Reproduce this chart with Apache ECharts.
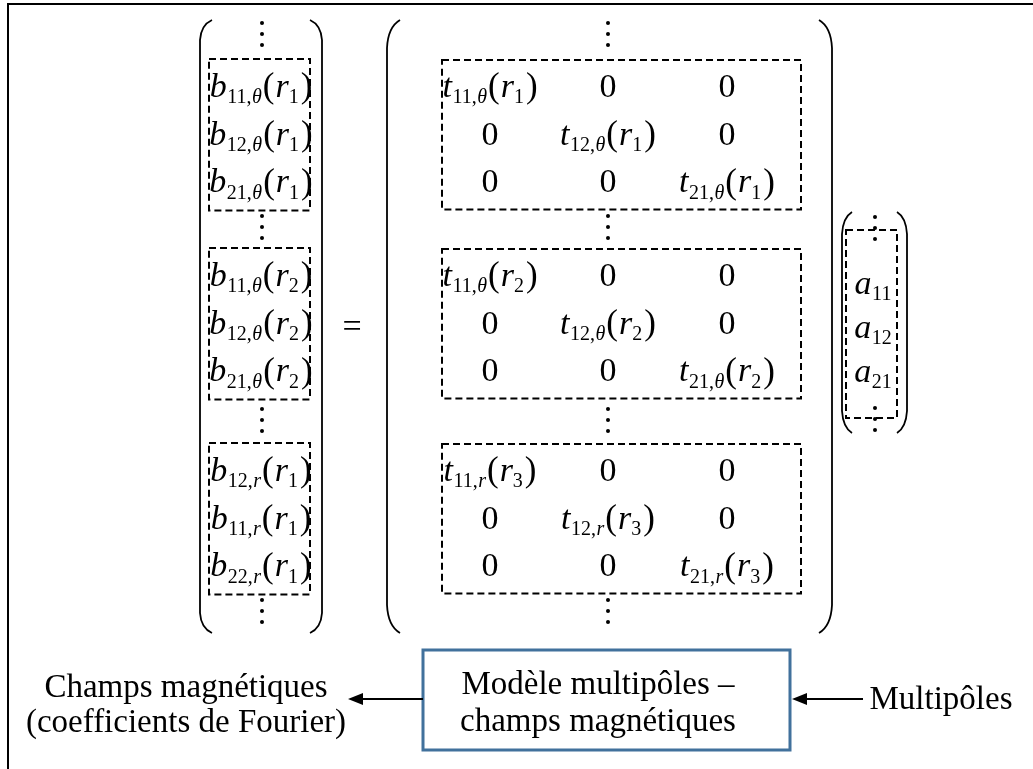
<!DOCTYPE html>
<html>
<head>
<meta charset="utf-8">
<script src="https://cdn.jsdelivr.net/npm/echarts@6/dist/echarts.min.js"></script>
<style>
html,body{margin:0;padding:0;background:#ffffff;}
#chart{width:1033px;height:769px;}
</style>
</head>
<body>
<div id="chart"></div>
<script>
// ---------------- data (content of the diagram) ----------------
const bSymbol = 'b';
const bSubscripts = ['11,θ','12,θ','21,θ','11,θ','12,θ','21,θ','12,r','11,r','22,r'];
const bRadii      = ['1','1','1','2','2','2','1','1','1'];
const tSymbol = 't';
const tSubscripts = ['11,θ','12,θ','21,θ','11,θ','12,θ','21,θ','11,r','12,r','21,r'];
const tRadii      = ['1','1','1','2','2','2','3','3','3'];
const zeroEntry = '0';
const aSymbol = 'a';
const aSubscripts = ['11','12','21'];
const radiusSymbol = 'r';
const equalsSign = '=';
const leftCaption  = ['Champs magnétiques','(coefficients de Fourier)'];
const boxCaption   = ['Modèle multipôles –','champs magnétiques'];
const rightCaption = ['Multipôles'];

// ---------------- layout / style constants ----------------
const FONT = "'Times New Roman','Liberation Serif','DejaVu Serif',serif";
const MAIN = 34, SUB = 20, SUBDY = 10, PAREN = 35, PDY = 0;
const CAP = 33;
const blockRowY = [88, 277, 472];
const ROWSTEP = 47.7;
const dotsY = [34, 227, 420, 611];
const bCenterX = 261;
const colX = [490, 608, 727];
const aCenterX = 873;
const aRowY = [285, 329, 373];
const aDotsY = [228, 419];

const mctx = document.createElement('canvas').getContext('2d');
function measure(t, size, italic) {
  mctx.font = (italic ? 'italic ' : '') + size + 'px ' + FONT;
  return mctx.measureText(t).width;
}
function rowY(i) { return blockRowY[Math.floor(i / 3)] + (i % 3) * ROWSTEP; }
function splitSub(s) {
  const k = s.lastIndexOf(',');
  return k < 0 ? [[s, false]] : [[s.slice(0, k + 1), false], [s.slice(k + 1), true]];
}
function pieces(sym, sub, rad) {
  const p = [{t: sym, s: MAIN, i: true, dy: 0}];
  splitSub(sub).forEach(([t, it]) => p.push({t: t, s: SUB, i: it, dy: SUBDY, pre: 0.5}));
  if (rad != null) {
    p.push({t: '(', s: PAREN, i: false, dy: PDY, pre: 1});
    p.push({t: radiusSymbol, s: MAIN, i: true, dy: 0, pre: 1});
    p.push({t: rad, s: SUB, i: false, dy: SUBDY});
    p.push({t: ')', s: PAREN, i: false, dy: PDY, pre: 2});
  }
  return p;
}
function mathGroup(api, cx, cy, list) {
  let total = 0;
  list.forEach(q => { q.w = measure(q.t, q.s, q.i); total += q.w + (q.pre || 0); });
  const c = api.coord([cx, cy]);
  let x = c[0] - total / 2;
  const children = [];
  list.forEach(q => {
    x += q.pre || 0;
    children.push({type: 'text', x: x, y: c[1] + q.dy, silent: true,
      style: {text: q.t, fontSize: q.s, fontFamily: FONT, fontStyle: q.i ? 'italic' : 'normal',
              fill: '#000', align: 'left', verticalAlign: 'middle'}});
    x += q.w;
  });
  return {type: 'group', children: children};
}
function vdots(api, x, y) {
  return [-11, 0, 11].map(d => {
    const c = api.coord([x, y + d]);
    return {type: 'circle', shape: {cx: c[0], cy: c[1], r: 2}, style: {fill: '#000'}};
  });
}
function dashedBox(api, x0, y0, x1, y1) {
  const a = api.coord([x0, y0]), b = api.coord([x1, y1]);
  return {type: 'rect', shape: {x: a[0], y: a[1], width: b[0] - a[0], height: b[1] - a[1]},
          style: {fill: 'none', stroke: '#000', lineWidth: 2, lineDash: [7, 4]}};
}
function bigParen(api, x, top, bottom, w, h, side) {
  const s = side === 'left' ? 1 : -1;
  const p = (X, Y) => api.coord([X, Y]).join(' ');
  const d = 'M ' + p(x + s * w, top) + ' Q ' + p(x + s * 1, top + h * 0.25) + ' ' + p(x, top + h) +
            ' L ' + p(x, bottom - h) + ' Q ' + p(x + s * 1, bottom - h * 0.25) + ' ' + p(x + s * w, bottom);
  return {type: 'path', shape: {pathData: d}, style: {fill: 'none', stroke: '#000', lineWidth: 1.8}};
}
function textAt(api, x, y, t, size, align) {
  const c = api.coord([x, y]);
  return {type: 'text', x: c[0], y: c[1],
          style: {text: t, fontSize: size, fontFamily: FONT, fill: '#000', align: align || 'center', verticalAlign: 'middle'}};
}
function arrow(api, xFrom, xTip, y) {
  const a = api.coord([xFrom, y]), t = api.coord([xTip, y]);
  const dir = Math.sign(a[0] - t[0]);
  const base = t[0] + dir * 15;
  return [
    {type: 'line', shape: {x1: a[0], y1: a[1], x2: base, y2: t[1]}, style: {stroke: '#000', lineWidth: 2}},
    {type: 'polygon', shape: {points: [[t[0], t[1]], [base, t[1] - 6], [base, t[1] + 6]]}, style: {fill: '#000'}}
  ];
}

const chart = echarts.init(document.getElementById('chart'), null, {renderer: 'canvas'});
const option = {
  animation: false,
  backgroundColor: '#ffffff',
  grid: {left: 0, right: 0, top: 0, bottom: 0},
  xAxis: {type: 'value', min: 0, max: 1033, show: false},
  yAxis: {type: 'value', min: 0, max: 769, inverse: true, show: false},
  series: [
    { // left vector entries
      type: 'custom', coordinateSystem: 'cartesian2d', silent: true,
      data: bSubscripts.map((s, i) => [i, i]),
      renderItem: (params, api) => {
        const i = params.dataIndex;
        return mathGroup(api, bCenterX, rowY(i), pieces(bSymbol, bSubscripts[i], bRadii[i]));
      }
    },
    { // matrix entries (diagonal t and zeros)
      type: 'custom', coordinateSystem: 'cartesian2d', silent: true,
      data: tSubscripts.map((s, i) => [i, i]),
      renderItem: (params, api) => {
        const i = params.dataIndex, k = i % 3;
        const children = [mathGroup(api, colX[k], rowY(i), pieces(tSymbol, tSubscripts[i], tRadii[i]))];
        for (let j = 0; j < 3; j++) if (j !== k) children.push(textAt(api, colX[j], rowY(i), zeroEntry, MAIN));
        return {type: 'group', children: children};
      }
    },
    { // right vector entries
      type: 'custom', coordinateSystem: 'cartesian2d', silent: true,
      data: aSubscripts.map((s, i) => [i, i]),
      renderItem: (params, api) => {
        const i = params.dataIndex;
        return mathGroup(api, aCenterX, aRowY[i], pieces(aSymbol, aSubscripts[i], null));
      }
    },
    { // structure: frame, brackets, dashed blocks, ellipses, captions, arrows
      type: 'custom', coordinateSystem: 'cartesian2d', silent: true,
      data: [[0, 0]],
      renderItem: (params, api) => {
        const ch = [];
        // frame (top and left borders)
        const f0 = api.coord([8, 4]), f1 = api.coord([1033, 4]), f2 = api.coord([8, 769]);
        ch.push({type: 'polyline', shape: {points: [f1, f0, f2]}, style: {fill: 'none', stroke: '#000', lineWidth: 2}});
        // big brackets
        ch.push(bigParen(api, 200, 20, 633, 12, 20, 'left'));
        ch.push(bigParen(api, 322, 20, 633, 12, 20, 'right'));
        ch.push(bigParen(api, 387, 20, 633, 13, 28, 'left'));
        ch.push(bigParen(api, 832, 20, 633, 13, 28, 'right'));
        ch.push(bigParen(api, 842, 212, 433, 10, 22, 'left'));
        ch.push(bigParen(api, 907, 212, 433, 10, 22, 'right'));
        // dashed blocks
        for (let b = 0; b < 3; b++) {
          const y0 = rowY(b * 3), y2 = rowY(b * 3 + 2);
          ch.push(dashedBox(api, 209, y0 - 29, 310, y2 + 27));
          ch.push(dashedBox(api, 442, y0 - 28, 801, y2 + 26));
        }
        ch.push(dashedBox(api, 846, aDotsY[0] + 2, 897, aDotsY[1] - 1));
        // vertical ellipses
        dotsY.forEach(y => { ch.push(...vdots(api, bCenterX + 1, y)); ch.push(...vdots(api, colX[1], y)); });
        aDotsY.forEach(y => ch.push(...vdots(api, aCenterX + 2, y)));
        // equals sign
        ch.push(textAt(api, 352, 328, equalsSign, MAIN));
        // model box
        const m0 = api.coord([423, 650]), m1 = api.coord([790, 750]);
        ch.push({type: 'rect', shape: {x: m0[0], y: m0[1], width: m1[0] - m0[0], height: m1[1] - m0[1]},
                 style: {fill: '#ffffff', stroke: '#41719C', lineWidth: 3}});
        ch.push(textAt(api, 598, 685, boxCaption[0], CAP));
        ch.push(textAt(api, 598, 722, boxCaption[1], CAP));
        // captions
        ch.push(textAt(api, 186, 688, leftCaption[0], CAP));
        ch.push(textAt(api, 186, 723, leftCaption[1], CAP));
        ch.push(textAt(api, 941, 700, rightCaption[0], CAP));
        // arrows
        ch.push(...arrow(api, 423, 348, 699));
        ch.push(...arrow(api, 863, 792, 699));
        return {type: 'group', children: ch};
      }
    }
  ]
};
chart.setOption(option);
</script>
</body>
</html>
